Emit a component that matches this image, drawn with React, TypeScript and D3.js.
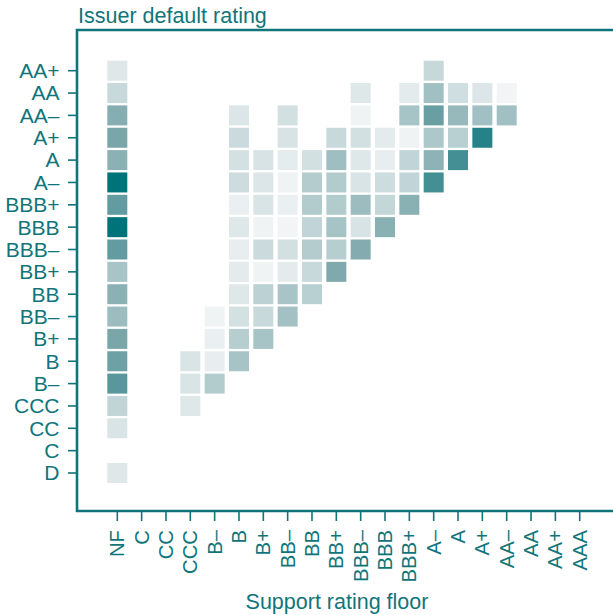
import React from "react";
import * as d3 from "d3";

const supportFloors = ["NF", "C", "CC", "CCC", "B–", "B", "B+", "BB–", "BB", "BB+", "BBB–", "BBB", "BBB+", "A–", "A", "A+", "AA–", "AA", "AA+", "AAA"];
const issuerRatings = ["AA+", "AA", "AA–", "A+", "A", "A–", "BBB+", "BBB", "BBB–", "BB+", "BB", "BB–", "B+", "B", "B–", "CCC", "CC", "C", "D"];

const _ = null;
// rows = issuer rating, columns = support rating floor (share, 0–100)
const cellValues: (number | null)[][] = [
  [9, _, _, _, _, _, _, _, _, _, _, _, _, 19],
  [18, _, _, _, _, _, _, _, _, _, 9, _, 7, 34, 15, 10, 1],
  [45, _, _, _, _, 10, _, 14, _, _, 2, _, 32, 57, 38, 34, 34],
  [50, _, _, _, _, 17, _, 12, _, 18, 14, 7, 2, 29, 24, 85],
  [43, _, _, _, _, 13, 12, 6, 14, 35, 9, 5, 21, 42, 73],
  [100, _, _, _, _, 16, 10, 2, 26, 27, 11, 16, 21, 73],
  [60, _, _, _, _, 4, 11, 4, 27, 27, 36, 20, 44],
  [100, _, _, _, _, 9, 2, 1, 21, 32, 12, 44],
  [60, _, _, _, _, 5, 17, 14, 26, 25, 46],
  [31, _, _, _, _, 7, 2, 7, 18, 48],
  [43, _, _, _, _, 9, 23, 31, 24],
  [36, _, _, _, 2, 13, 18, 33],
  [50, _, _, _, 4, 25, 32],
  [55, _, _, 11, 5, 32],
  [64, _, _, 11, 27],
  [21, _, _, 9],
  [11],
  [],
  [9],
];

const W = 613;
const H = 615;
const TEAL = "#10757b";
const FONT = "'Liberation Sans', Arial, Helvetica, sans-serif";

export default function App() {
  const x = d3.scalePoint<string>().domain(supportFloors).range([117.3, 579.7]);
  const y = d3.scalePoint<string>().domain(issuerRatings).range([70.7, 473]);
  const color = d3
    .scaleLinear<string>()
    .domain([0, 50, 100])
    .range(["#f4f6f7", "#7aa6aa", "#00737a"]);
  const cell = 20;

  const left = 77;
  const top = 30;
  const bottom = 511;

  const cells: { r: string; c: string; v: number }[] = [];
  cellValues.forEach((row, ri) => {
    row.forEach((v, ci) => {
      if (v !== null && v !== undefined) cells.push({ r: issuerRatings[ri], c: supportFloors[ci], v });
    });
  });

  return (
    <svg width={W} height={H} style={{ position: "absolute", left: 0, top: 0, background: "#fff" }} fontFamily={FONT}>
      <text x={78} y={23} fontSize={21.5} fill={TEAL}>Issuer default rating</text>
      {cells.map((d, i) => (
        <rect
          key={i}
          x={(x(d.c) as number) - cell / 2}
          y={(y(d.r) as number) - cell / 2}
          width={cell}
          height={cell}
          fill={color(d.v)}
        />
      ))}
      <path d={`M${W},${top}H${left}V${bottom}H${W}`} fill="none" stroke={TEAL} strokeWidth={2.6} />
      {issuerRatings.map((r) => (
        <g key={r} transform={`translate(0,${y(r)})`}>
          <line x1={68} x2={left} stroke={TEAL} strokeWidth={1.6} />
          <text x={59.5} dy="0.35em" textAnchor="end" fontSize={21} fill={TEAL}>{r}</text>
        </g>
      ))}
      {supportFloors.map((c) => (
        <g key={c} transform={`translate(${x(c)},0)`}>
          <line y1={bottom} y2={521} stroke={TEAL} strokeWidth={1.6} />
          <text transform="translate(0,530) rotate(-90)" dy="0.35em" textAnchor="end" fontSize={20.3} fill={TEAL}>{c}</text>
        </g>
      ))}
      <text x={337} y={609} textAnchor="middle" fontSize={21.5} fill={TEAL}>Support rating floor</text>
    </svg>
  );
}
